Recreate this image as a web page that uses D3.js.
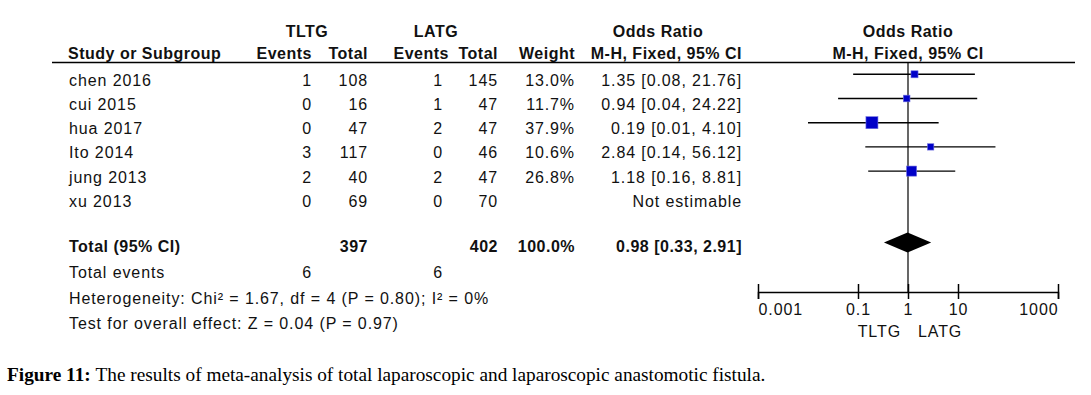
<!DOCTYPE html>
<html>
<head>
<meta charset="utf-8">
<script src="https://cdn.jsdelivr.net/npm/d3@7"></script>
<style>
  body { margin: 0; background: #fff; }
  svg { display: block; }
</style>
</head>
<body>
<div id="chart"></div>
<script>
// ---- Data ----
const studies    = ["chen 2016", "cui 2015", "hua 2017", "Ito 2014", "jung 2013", "xu 2013"];
const tltgEvents = [1, 0, 0, 3, 2, 0];
const tltgTotal  = [108, 16, 47, 117, 40, 69];
const latgEvents = [1, 1, 2, 0, 2, 0];
const latgTotal  = [145, 47, 47, 46, 47, 70];
const weights    = [13.0, 11.7, 37.9, 10.6, 26.8, null];
const orValues   = [1.35, 0.94, 0.19, 2.84, 1.18, null];
const ciLower    = [0.08, 0.04, 0.01, 0.14, 0.16, null];
const ciUpper    = [21.76, 24.22, 4.10, 56.12, 8.81, null];

const totalTltg = 397, totalLatg = 402, totalWeight = 100.0;
const pooledOR = 0.98, pooledLower = 0.33, pooledUpper = 2.91;
const eventsTltg = 6, eventsLatg = 6;
const heterogeneity = "Heterogeneity: Chi² = 1.67, df = 4 (P = 0.80); I² = 0%";
const overallEffect = "Test for overall effect: Z = 0.04 (P = 0.97)";
const axisTicks = [0.001, 0.1, 1, 10, 1000];
const favoursLeft = "TLTG", favoursRight = "LATG";
const caption = "The results of meta-analysis of total laparoscopic and laparoscopic anastomotic fistula.";

// ---- Layout ----
const width = 1091, height = 395;
const font = "'Liberation Sans', Arial, sans-serif";
const ink = "#111";
const col = { study: 69, tEv: 312, tTot: 368, lEv: 443, lTot: 498, weight: 575, or: 742 };

const svg = d3.select("#chart")
  .append("svg")
  .attr("width", width)
  .attr("height", height);

svg.append("rect").attr("width", width).attr("height", height).attr("fill", "#fff");

const x = d3.scaleLog().domain([0.001, 1000]).range([758, 1058]);
const rowY = d3.scaleLinear().domain([0, 1]).range([74.3, 98.5]);
const footY = d3.scaleLinear().domain([0, 1]).range([278, 303.5]);
const boxSize = d3.scaleSqrt().domain([0, 100]).range([0, 19.5]);
const summaryY = 242.5;
const axisY = 292;

function txt(g, xPos, yPos, s, anchor, bold) {
  return g.append("text")
    .attr("x", xPos)
    .attr("y", yPos)
    .attr("text-anchor", anchor || "start")
    .attr("font-family", font)
    .attr("font-size", 16)
    .attr("font-weight", bold ? "bold" : "normal")
    .attr("letter-spacing", bold ? 0.5 : 0.9)
    .attr("fill", ink)
    .text(s);
}

const table = svg.append("g");

// header
txt(table, 307, 37, "TLTG", "middle", true);
txt(table, 436, 37, "LATG", "middle", true);
txt(table, 658, 37, "Odds Ratio", "middle", true);
txt(table, x(1), 37, "Odds Ratio", "middle", true);
txt(table, col.study - 1, 59, "Study or Subgroup", "start", true);
txt(table, col.tEv, 59, "Events", "end", true);
txt(table, col.tTot, 59, "Total", "end", true);
txt(table, col.lEv + 6, 59, "Events", "end", true);
txt(table, col.lTot, 59, "Total", "end", true);
txt(table, col.weight, 59, "Weight", "end", true);
txt(table, col.or, 59, "M-H, Fixed, 95% CI", "end", true);
txt(table, x(1), 59, "M-H, Fixed, 95% CI", "middle", true);

table.append("line")
  .attr("x1", 52).attr("x2", 1075)
  .attr("y1", 62.5).attr("y2", 62.5)
  .attr("stroke", "#000").attr("stroke-width", 1.5);

// study rows
studies.forEach((s, i) => {
  const by = rowY(i) + 11.5;
  txt(table, col.study, by, s);
  txt(table, col.tEv, by, tltgEvents[i], "end");
  txt(table, col.tTot, by, tltgTotal[i], "end");
  txt(table, col.lEv, by, latgEvents[i], "end");
  txt(table, col.lTot, by, latgTotal[i], "end");
  if (weights[i] != null) {
    txt(table, col.weight, by, weights[i].toFixed(1) + "%", "end");
    txt(table, col.or, by,
      `${orValues[i].toFixed(2)} [${ciLower[i].toFixed(2)}, ${ciUpper[i].toFixed(2)}]`, "end");
  } else {
    txt(table, col.or, by, "Not estimable", "end");
  }
});

// total rows
const ty = summaryY + 9.5;
txt(table, col.study, ty, "Total (95% CI)", "start", true);
txt(table, col.tTot, ty, totalTltg, "end", true);
txt(table, col.lTot, ty, totalLatg, "end", true);
txt(table, col.weight, ty, totalWeight.toFixed(1) + "%", "end", true);
txt(table, col.or, ty,
  `${pooledOR.toFixed(2)} [${pooledLower.toFixed(2)}, ${pooledUpper.toFixed(2)}]`, "end", true);

txt(table, col.study, footY(0), "Total events");
txt(table, col.tEv, footY(0), eventsTltg, "end");
txt(table, col.lEv, footY(0), eventsLatg, "end");
txt(table, col.study, footY(1), heterogeneity);
txt(table, col.study, footY(2), overallEffect);

// ---- Forest plot ----
const plot = svg.append("g");

plot.append("line")
  .attr("x1", x(1)).attr("x2", x(1))
  .attr("y1", 62.5).attr("y2", axisY)
  .attr("stroke", "#000").attr("stroke-width", 1.2);

const rows = studies.map((s, i) => ({ i, or: orValues[i], lo: ciLower[i], hi: ciUpper[i], w: weights[i] }))
  .filter(d => d.or != null);

plot.selectAll(".ci")
  .data(rows)
  .enter()
  .append("line")
  .attr("class", "ci")
  .attr("x1", d => x(d.lo))
  .attr("x2", d => x(d.hi))
  .attr("y1", d => rowY(d.i))
  .attr("y2", d => rowY(d.i))
  .attr("stroke", "#000")
  .attr("stroke-width", 1.4);

plot.selectAll(".box")
  .data(rows)
  .enter()
  .append("rect")
  .attr("class", "box")
  .attr("x", d => x(d.or) - boxSize(d.w) / 2)
  .attr("y", d => rowY(d.i) - boxSize(d.w) / 2)
  .attr("width", d => boxSize(d.w))
  .attr("height", d => boxSize(d.w))
  .attr("fill", "#0000c8")
  .attr("stroke", "#6f6fe0")
  .attr("stroke-width", 0.6);

plot.append("path")
  .attr("d", d3.line()([
    [x(pooledLower), summaryY],
    [x(pooledOR), summaryY - 10],
    [x(pooledUpper), summaryY],
    [x(pooledOR), summaryY + 10]
  ]) + "Z")
  .attr("fill", "#000");

// ---- Axis ----
const axisG = plot.append("g")
  .attr("transform", `translate(0,${axisY})`)
  .call(d3.axisBottom(x)
    .tickValues(axisTicks)
    .tickSizeOuter(0)
    .tickSize(7)
    .tickFormat(d => String(d)));

axisG.select(".domain").attr("stroke", "#000").attr("stroke-width", 1.5);
axisG.selectAll(".tick line").attr("y1", -8).attr("y2", 7).attr("stroke", "#000").attr("stroke-width", 1.5);
axisG.selectAll(".tick text")
  .attr("y", 23)
  .attr("dy", 0)
  .attr("font-family", font)
  .attr("font-size", 16)
  .attr("letter-spacing", 0.9)
  .attr("fill", ink)
  .attr("text-anchor", (d, i, n) => i === 0 ? "start" : i === n.length - 1 ? "end" : "middle");

txt(plot, x(1) - 7, axisY + 45, favoursLeft, "end");
txt(plot, x(1) + 10, axisY + 45, favoursRight, "start");

// ---- Caption ----
const cap = svg.append("text")
  .attr("x", 7)
  .attr("y", 381)
  .attr("font-family", "'Liberation Serif', 'Times New Roman', serif")
  .attr("font-size", 19.3)
  .attr("fill", "#000");
cap.append("tspan").attr("font-weight", "bold").text("Figure 11: ");
cap.append("tspan").text(caption);
</script>
</body>
</html>
